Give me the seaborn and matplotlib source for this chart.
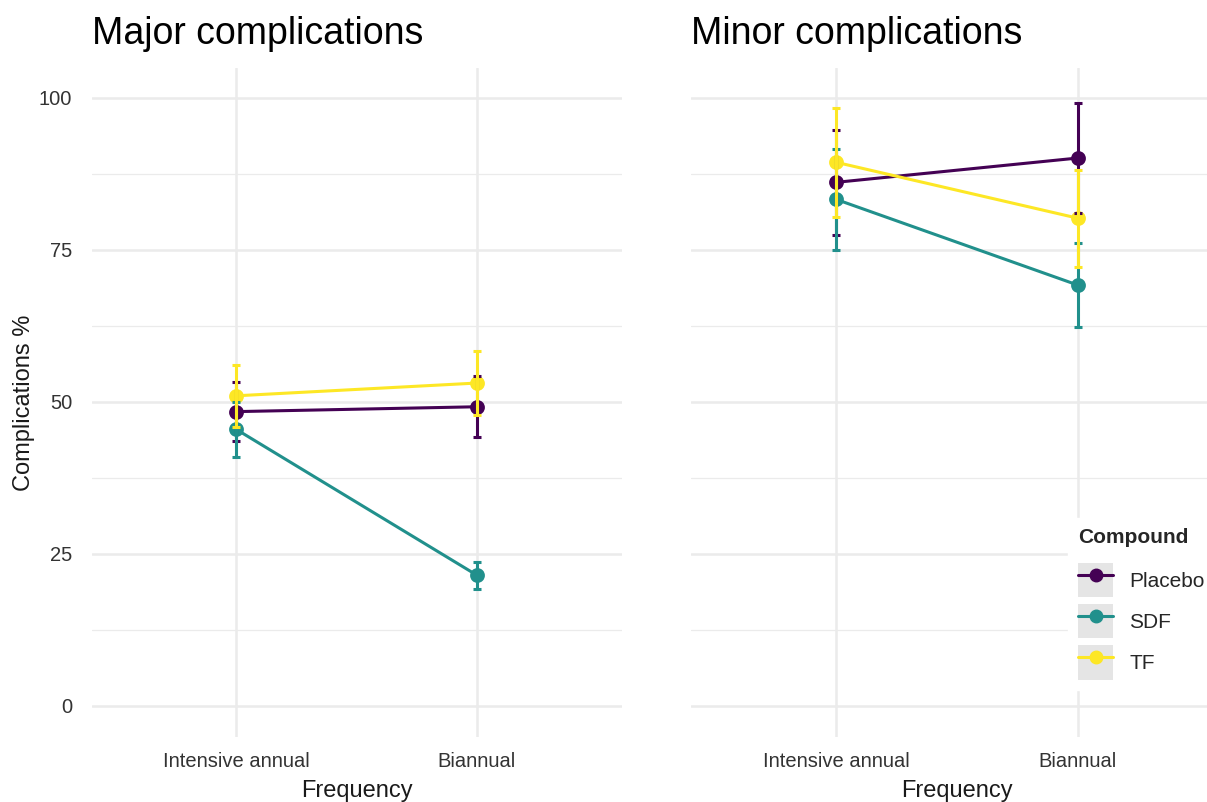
import numpy as np
import pandas as pd
import seaborn as sns
import matplotlib
matplotlib.use("Agg")
from matplotlib import pyplot as plt
from matplotlib.lines import Line2D
from matplotlib.patches import Patch
from matplotlib.legend_handler import HandlerTuple

# data
frequencies = ["Intensive annual", "Biannual"]
compounds = ["Placebo", "SDF", "TF"]
panels = ["Major complications", "Minor complications"]

major_mean = {"Placebo": [48.4, 49.2], "SDF": [45.5, 21.5], "TF": [51.0, 53.1]}
major_err = {"Placebo": [4.8, 5.0], "SDF": [4.5, 2.2], "TF": [5.1, 5.3]}
minor_mean = {"Placebo": [86.1, 90.1], "SDF": [83.3, 69.2], "TF": [89.4, 80.2]}
minor_err = {"Placebo": [8.6, 9.0], "SDF": [8.3, 6.9], "TF": [9.0, 8.0]}

palette = {"Placebo": "#440154", "SDF": "#21908C", "TF": "#FDE725"}

sns.set_theme(style="whitegrid")
plt.rcParams["font.family"] = ["Liberation Sans", "DejaVu Sans"]

fig = plt.figure(figsize=(12.07, 8.02), dpi=100)
W, H = 1207, 802
ax1 = fig.add_axes([91.5 / W, 1 - 737 / H, (621.5 - 91.5) / W, (737 - 68) / H])
ax2 = fig.add_axes([691 / W, 1 - 737 / H, (1223 - 691) / W, (737 - 68) / H])


def build_frame(means):
    rows = []
    for c in compounds:
        for i, f in enumerate(frequencies):
            rows.append({"Frequency": f, "Compound": c, "value": means[c][i]})
    return pd.DataFrame(rows)


for ax, title, means, errs in [(ax1, panels[0], major_mean, major_err),
                               (ax2, panels[1], minor_mean, minor_err)]:
    df = build_frame(means)
    sns.pointplot(data=df, x="Frequency", y="value", hue="Compound",
                  order=frequencies, hue_order=compounds, palette=palette,
                  errorbar=None, markers="o", markersize=9, linewidth=2.2,
                  dodge=False, legend=False, ax=ax)
    for c in compounds:
        ax.errorbar(np.arange(len(frequencies)), means[c], yerr=errs[c],
                    fmt="none", ecolor=palette[c], elinewidth=2.2,
                    capsize=3, capthick=2.2, zorder=5)

    ax.set_xlim(-0.6, 1.6)
    ax.set_ylim(-5.1, 104.9)
    ax.set_yticks([0, 25, 50, 75, 100])
    ax.set_yticks([12.5, 37.5, 62.5, 87.5], minor=True)
    ax.grid(which="major", color="#EBEBEB", linewidth=1.8)
    ax.grid(which="minor", axis="y", color="#EBEBEB", linewidth=0.9)
    ax.set_axisbelow(True)
    for s in ax.spines.values():
        s.set_visible(False)
    ax.tick_params(axis="both", which="both", length=0, labelsize=14.5,
                   labelcolor="#333333")
    ax.tick_params(axis="y", pad=14)
    ax.tick_params(axis="x", pad=11)
    ax.set_xlabel("Frequency", fontsize=17, color="#1a1a1a", labelpad=6)
    ax.set_title(title, loc="left", fontsize=27, pad=17, color="black")

ax1.set_ylabel("Complications %", fontsize=17, color="#1a1a1a", labelpad=3)
ax2.set_ylabel("")
ax2.tick_params(axis="y", labelleft=False)

handles = []
for c in compounds:
    key = Patch(facecolor="#E5E5E5", edgecolor="none")
    ln = Line2D([], [], color=palette[c], marker="o", markersize=9, linewidth=2.2)
    handles.append((key, ln))
leg = ax2.legend(handles, compounds, handler_map={tuple: HandlerTuple(ndivide=1, pad=0)},
                 title="Compound", loc="lower left",
                 bbox_to_anchor=(1068 / W, 1 - 690 / H), bbox_transform=fig.transFigure,
                 borderaxespad=0, frameon=True, facecolor="white", edgecolor="white",
                 framealpha=1, fontsize=15, handlelength=1.68, handleheight=2.14,
                 labelspacing=0.34, handletextpad=0.75, borderpad=0.5, alignment="left")
leg.get_title().set_fontweight("bold")
leg.get_title().set_fontsize(15)
leg._legend_box.sep = 11.5  # more room under the legend title

fig.savefig("out.png", dpi=100)
